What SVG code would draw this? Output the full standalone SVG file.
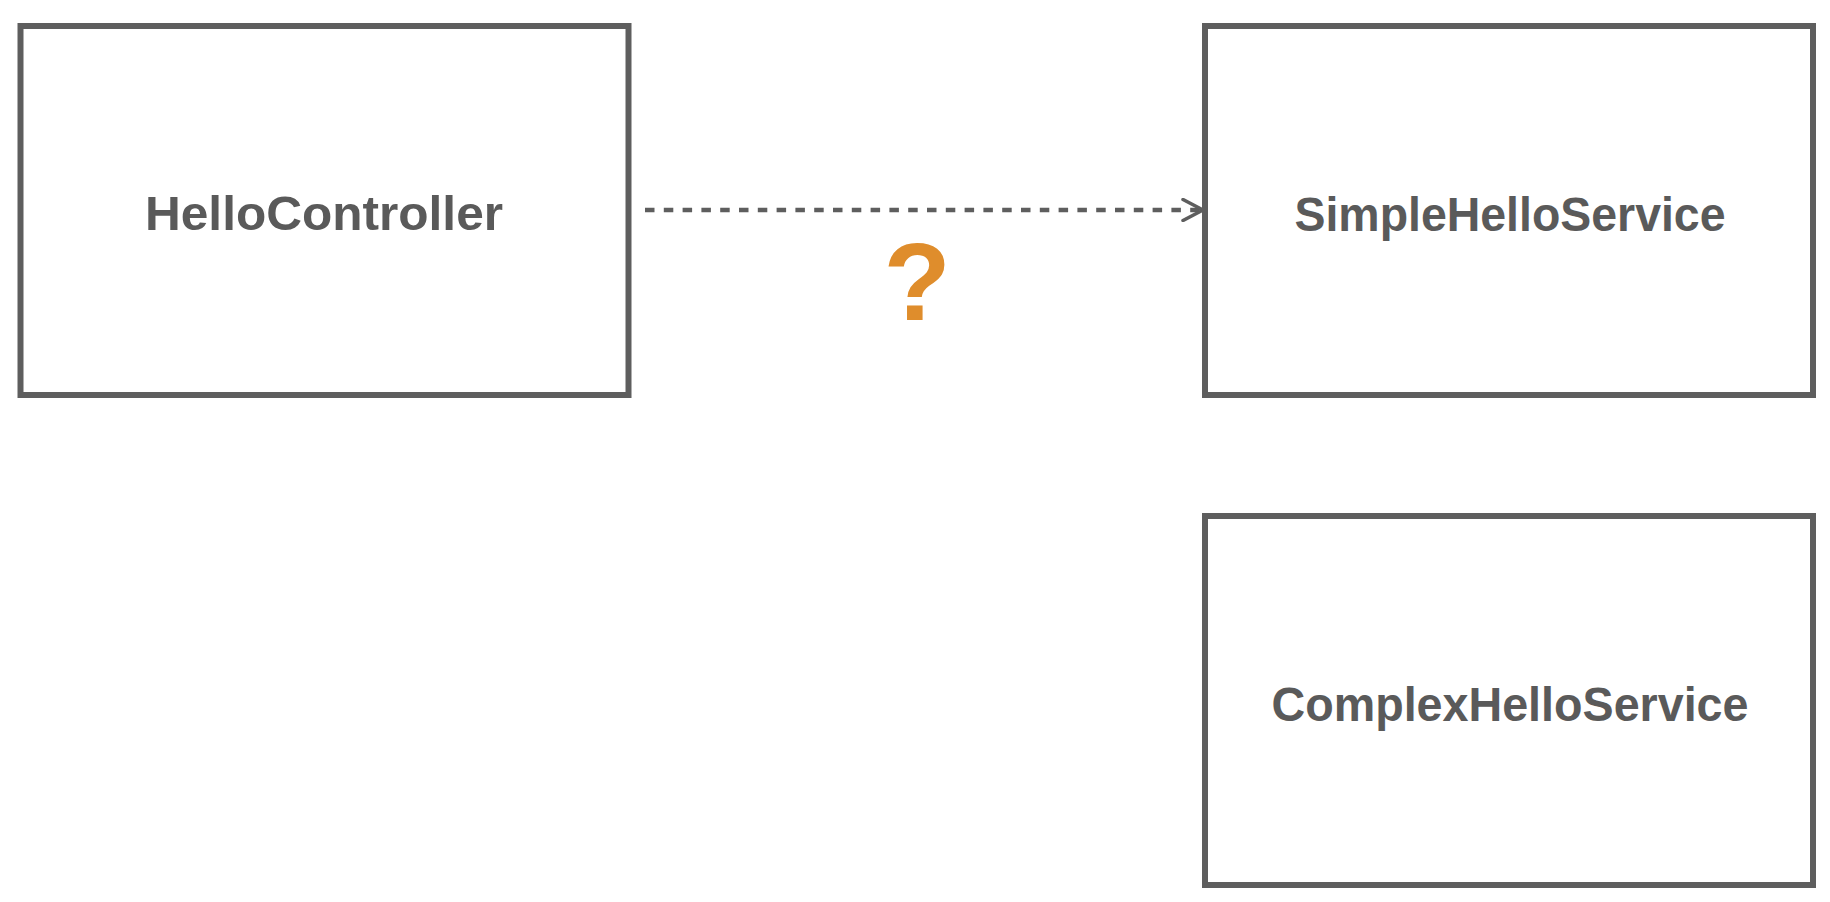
<svg xmlns="http://www.w3.org/2000/svg" width="1830" height="902" viewBox="0 0 1830 902">
  <style>
    .box { fill: #ffffff; stroke: #5e5e5e; stroke-width: 6; }
    .label { font-family: "Liberation Sans", Arial, sans-serif; font-weight: bold; font-size: 48px; fill: #5a5a5a; text-anchor: middle; }
    .conn { fill: none; stroke: #5e5e5e; stroke-width: 4.5; }
    .q { font-family: "Liberation Sans", Arial, sans-serif; font-weight: bold; font-size: 110px; fill: #DF8D2C; text-anchor: middle; }
  </style>
  <defs>
    <marker id="open-arrow" viewBox="0 0 24 24" markerWidth="24" markerHeight="24" refX="22" refY="12" orient="auto" markerUnits="userSpaceOnUse">
      <path d="M2 1.5 L22 12 L2 22.5" fill="none" stroke="#5e5e5e" stroke-width="3.5" stroke-linecap="round" stroke-linejoin="round"/>
    </marker>
  </defs>
  <rect x="0" y="0" width="1830" height="902" fill="#ffffff"/>
  <g id="connectors">
    <line class="conn" x1="645" y1="210" x2="1203" y2="210" stroke-dasharray="9.5 9.3" marker-end="url(#open-arrow)"/>
    <text class="q" x="917" y="320">?</text>
  </g>
  <g id="HelloController">
    <rect class="box" x="20.5" y="26" width="608" height="369"/>
    <text class="label" x="324" y="230" textLength="358" lengthAdjust="spacingAndGlyphs">HelloController</text>
  </g>
  <g id="SimpleHelloService">
    <rect class="box" x="1205" y="26" width="608" height="369"/>
    <text class="label" x="1510" y="231" textLength="431" lengthAdjust="spacingAndGlyphs">SimpleHelloService</text>
  </g>
  <g id="ComplexHelloService">
    <rect class="box" x="1205" y="516" width="608" height="369"/>
    <text class="label" x="1510" y="721" textLength="477" lengthAdjust="spacingAndGlyphs">ComplexHelloService</text>
  </g>
</svg>
